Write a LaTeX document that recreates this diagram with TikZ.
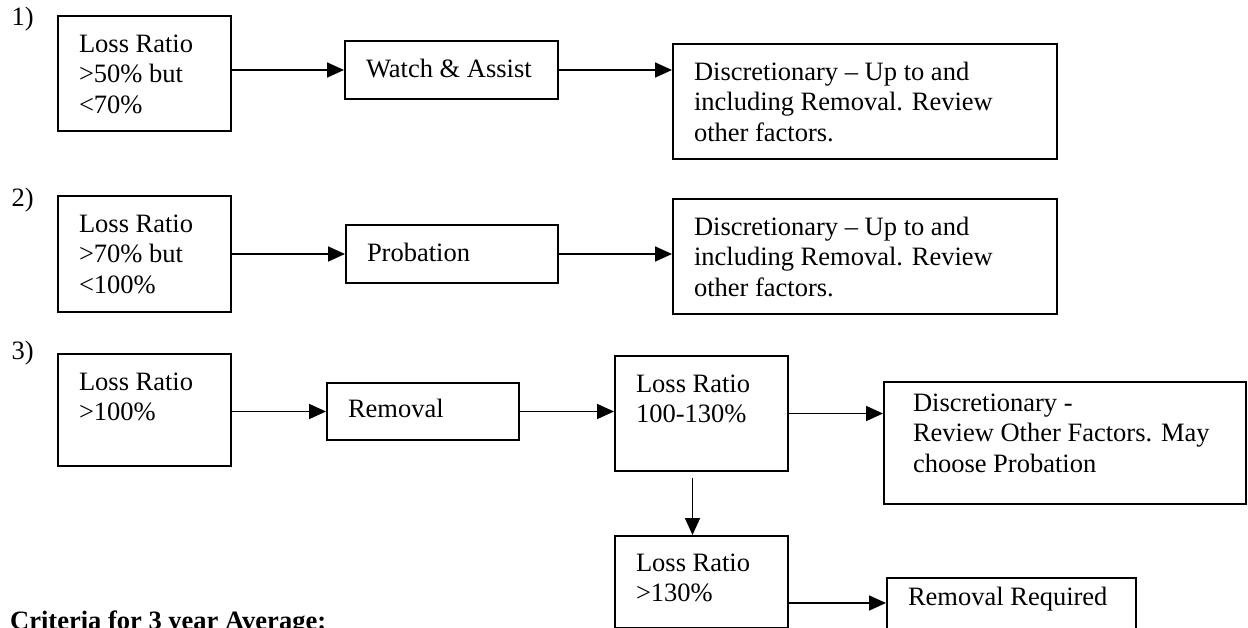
\documentclass[tikz,border=0pt]{standalone}
\usepackage{fontspec}
\setmainfont{Liberation Serif}
\usetikzlibrary{arrows.meta}
\newcommand{\boxtext}[4][15pt]{\parbox[c][#3pt][t]{#2pt}{\raggedright\vspace*{#1}\strut#4}}

\begin{document}
\begin{tikzpicture}[x=1pt, y=-1pt,
    txt/.style={font=\fontsize{26.5}{30.5}\selectfont},
    box/.style={txt, draw, line width=2pt, anchor=north west, inner xsep=21pt, inner ysep=0pt},
    arr/.style={line width=1.8pt, -{Triangle[length=17pt, width=15pt]}}]
    \useasboundingbox (0,0) rectangle (1248,628);

    \node[txt, anchor=west] (n1) at (8,19) {1)};
    \node[box] (lr1) at (57,15) {\boxtext{131}{115}{Loss Ratio\\>50\% but\\<70\%}};
    \node[box] (wa1) at (344,40) {\boxtext{171}{58}{Watch \& Assist}};
    \node[box] (dc1) at (672,43) {\boxtext{342}{115}{Discretionary – Up to and\\including Removal. Review\\other factors.}};
    \draw[arr] (lr1.east |- wa1.west) -- (wa1.west);
    \draw[arr] (wa1.east) -- (wa1.east -| dc1.west);

    \node[txt, anchor=west] (n2) at (8,200) {2)};
    \node[box] (lr2) at (57,195) {\boxtext{131}{116}{Loss Ratio\\>70\% but\\<100\%}};
    \node[box] (pb2) at (345,224) {\boxtext{170}{58}{Probation}};
    \node[box] (dc2) at (672,198) {\boxtext{342}{115}{Discretionary – Up to and\\including Removal. Review\\other factors.}};
    \draw[arr] (lr2.east |- pb2.west) -- (pb2.west);
    \draw[arr] (pb2.east) -- (pb2.east -| dc2.west);

    \node[txt, anchor=west] (n3) at (8,353) {3)};
    \node[box] (lr3) at (57,353) {\boxtext{131}{112}{Loss Ratio\\>100\%}};
    \node[box] (rm3) at (326,382) {\boxtext[13pt]{150}{57}{Removal}};
    \node[box] (lr4) at (614,355) {\boxtext{131}{115}{Loss Ratio\\100-130\%}};
    \node[box, inner xsep=29pt] (dc3) at (883,381) {\boxtext[8pt]{304}{122}{Discretionary -\\Review Other Factors. May\\choose Probation}};
    \node[box] (lr5) at (614,535) {\boxtext[14pt]{131}{92}{Loss Ratio\\>130\%}};
    \node[box] (rr3) at (886,577) {\boxtext[6pt]{207}{70}{Removal Required}};
    \draw[arr] (lr3.east |- rm3.west) -- (rm3.west);
    \draw[arr] (rm3.east) -- (rm3.east -| lr4.west);
    \draw[arr] (lr4.east) -- (lr4.east -| dc3.west);
    \draw[arr] ([xshift=-9pt, yshift=-6pt]lr4.south) -- ([xshift=-9pt]lr5.north);
    \draw[arr] ([yshift=-21pt]lr5.east) -- ([yshift=-21pt]lr5.east -| rr3.west);

    \node[font=\fontsize{26.5}{30.5}\selectfont\bfseries, anchor=base west, inner sep=0pt] (crit) at (10,629) {Criteria for 3 year Average:};
\end{tikzpicture}
\end{document}
